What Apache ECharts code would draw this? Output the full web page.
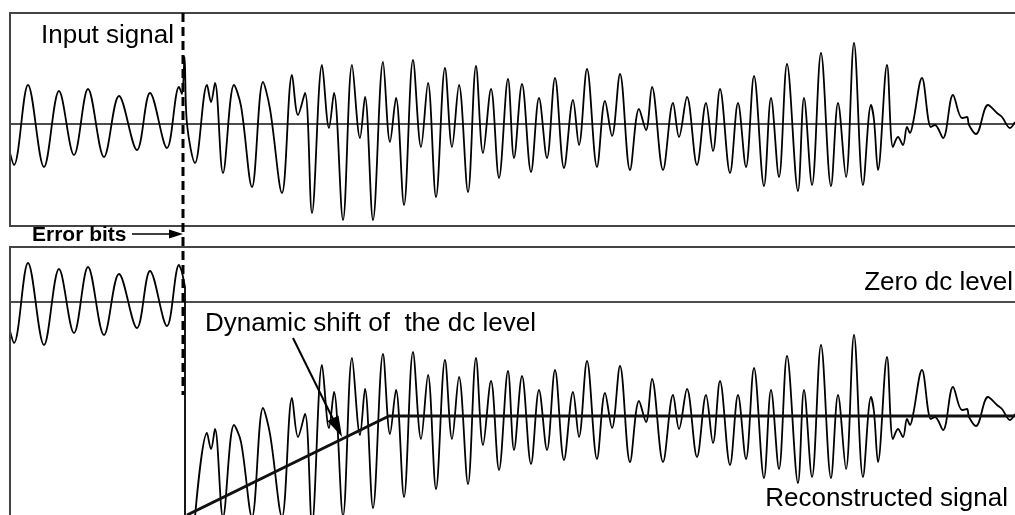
<!DOCTYPE html>
<html><head><meta charset="utf-8">
<script src="https://cdn.jsdelivr.net/npm/echarts@6/dist/echarts.min.js"></script>
<style>html,body{margin:0;padding:0;background:#fff}#c{width:1015px;height:515px}</style>
</head><body><div id="c"></div>
<script>
// ---- Input signal: extrema / shape points (time, amplitude) ----
const inputT = [10,14,28,44,59,74,88,104,119,137,150,167,179,
  182,184.5,187,195,
  207,211,215,223,
  234,241,252,263,270,282,
  292,298,305,312,
  322,329,334,343,
  352,360,365,373,
  383,390,396,404,
  413,421,428,436,
  445,452,459,468,
  476,483,491,499,
  508,514,522,
  531,539,547,555,
  564,573,579,587,
  597,605,612,620,
  630,639,646,652,
  663,673,679,687,
  697,706,713,720,
  730,738,746,754,
  764,771,779,787,
  798,804,812,821,
  831,838,846,854,
  863,871,874,878,
  887,893,898,903,
  907,910,913,922,
  931,935,943,953,
  962,967,969,976,
  988,997,1002,1010,1015];
const inputV = [-29,-41,39,-43,33,-31,35,-33,28,-26,31,-24,37,
  30,67,0,-39,
  39,22,41,-49,
  39,18,-63,42,15,-69,
  49,9,31,-89,
  59,-4,31,-96,
  59,-14,27,-96,
  62,-18,26,-81,
  64,-23,41,-73,
  56,-23,39,-68,
  58,-29,35,-54,
  45,-34,40,
  -48,26,-34,46,
  -44,24,-21,55,
  -43,23,-12,50,
  -46,15,-6,37,
  -46,21,-13,27,
  -41,21,-27,35,
  -49,21,-43,48,
  -62,26,-53,60,
  -67,26,-61,71,
  -62,21,-53,81,
  -61,19,4,-46,
  59,-23,-13,-21,
  -3,-9,1,46,
  -3,-1,-14,29,
  6,7,-1,-10,
  19,11,7,-4,2];

// ---- Lower panel: signal before the error (at zero dc level) ----
const preT = [10,14,28,44,59,74,88,104,119,137,150,167,179,182];
const preV = [-29,-41,39,-43,33,-31,35,-33,28,-26,31,-24,37,30];
// drop of the trace at the error instant
const dropT = [182,185,185];
const dropV = [30,15,-240];

// ---- Reconstructed signal (shifted dc) ----
const reconT = [195,207,211,215,223,234,241,252,263,270,282,292,298,305,312,322,329,334,343,352,360,365,373,
  383,390,396,404,
  413,421,428,436,
  445,452,459,468,
  476,483,491,499,
  508,514,522,
  531,539,547,555,
  564,573,579,587,
  597,605,612,620,
  630,639,646,652,
  663,673,679,687,
  697,706,713,720,
  730,738,746,754,
  764,771,779,787,
  798,804,812,821,
  831,838,846,854,
  863,871,874,878,
  887,893,898,903,
  907,910,913,922,
  931,935,943,953,
  962,967,969,976,
  988,997,1002,1010,1015];
const reconV = [-215,-131,-147,-127,-215,-123,-140,-215,-106,-132,-215,-96,-135,-112,-222,-63,-126,-90,-214,-56,-133,-87,-206,
  -52,-132,-88,-195,
  -50,-137,-73,-187,
  -58,-137,-75,-182,
  -56,-143,-79,-168,
  -69,-148,-74,
  -162,-88,-148,-68,
  -158,-90,-135,-59,
  -157,-91,-126,-64,
  -160,-99,-120,-77,
  -160,-93,-127,-87,
  -155,-93,-141,-79,
  -163,-93,-157,-66,
  -176,-88,-167,-54,
  -181,-88,-175,-43,
  -176,-93,-167,-33,
  -175,-95,-110,-160,
  -55,-137,-127,-135,
  -117,-123,-113,-68,
  -117,-115,-128,-85,
  -108,-107,-115,-124,
  -95,-103,-107,-118,-112];

// ---- Reference levels ----
const levelT = [10, 1015];
const zeroV = [0, 0];
const dcT = [187, 389, 1015];
const dcV = [-213, -114, -114];

const pts = (T, V) => T.map((t, i) => [t, V[i]]);
const FONT = '"Liberation Sans", Arial, Helvetica, sans-serif';

const sig = (name, xi, data, smooth) => ({
  type: 'line', name, xAxisIndex: xi, yAxisIndex: xi, data,
  smooth: smooth, symbol: 'none', silent: true, clip: true,
  lineStyle: { color: '#000', width: 1.8 }, z: 3
});
const lvl = (name, xi, data, w) => ({
  type: 'line', name, xAxisIndex: xi, yAxisIndex: xi, data,
  symbol: 'none', silent: true, clip: true,
  lineStyle: { color: '#111', width: w }, z: 2
});
const border = (x1, y1, x2, y2) => ({ type: 'line', z: 50, shape: { x1, y1, x2, y2 },
  style: { stroke: '#444', lineWidth: 2 } });

const chart = echarts.init(document.getElementById('c'), null, { renderer: 'canvas' });
chart.setOption({
  animation: false,
  backgroundColor: '#fff',
  grid: [
    { left: 10, top: 13, right: 0, height: 213, show: false },
    { left: 10, top: 247, right: 0, bottom: 0, show: false }
  ],
  xAxis: [
    { type: 'value', gridIndex: 0, min: 10, max: 1015, show: false },
    { type: 'value', gridIndex: 1, min: 10, max: 1015, show: false }
  ],
  yAxis: [
    { type: 'value', gridIndex: 0, min: -102, max: 111, show: false },
    { type: 'value', gridIndex: 1, min: -213, max: 55, show: false }
  ],
  series: [
    lvl('zeroTop', 0, pts(levelT, zeroV), 1.5),
    sig('Input signal', 0, pts(inputT, inputV), 0.35),
    lvl('zeroDc', 1, pts(levelT, zeroV), 1.5),
    sig('Before error', 1, pts(preT, preV), 0.35),
    sig('Drop', 1, pts(dropT, dropV), false),
    sig('Reconstructed signal', 1, pts(reconT, reconV), 0.35),
    Object.assign(lvl('dc level', 1, pts(dcT, dcV), 3), { z: 4 })
  ],
  graphic: [
    border(9, 13, 1015, 13), border(9, 226, 1015, 226), border(10, 13, 10, 226),
    border(9, 247, 1015, 247), border(10, 247, 10, 515),
    { type: 'line', z: 100, shape: { x1: 183, y1: 13, x2: 183, y2: 395 },
      style: { stroke: '#000', lineWidth: 3, lineDash: [9, 5] } },
    { type: 'line', z: 100, shape: { x1: 132, y1: 234, x2: 172, y2: 234 },
      style: { stroke: '#000', lineWidth: 1.5 } },
    { type: 'polygon', z: 100, shape: { points: [[183, 234], [169, 229.5], [169, 238.5]] },
      style: { fill: '#000' } },
    { type: 'line', z: 100, shape: { x1: 293, y1: 338, x2: 334, y2: 421 },
      style: { stroke: '#000', lineWidth: 2 } },
    { type: 'polygon', z: 100, shape: { points: [[342, 437], [338.5, 415.5], [327.5, 421.0]] },
      style: { fill: '#000' } },
    { type: 'text', z: 100, x: 41, y: 36,
      style: { text: 'Input signal', font: '26px ' + FONT, fill: '#000', verticalAlign: 'middle' } },
    { type: 'text', z: 100, x: 32, y: 235.5,
      style: { text: 'Error bits', font: 'bold 21px ' + FONT, fill: '#000', verticalAlign: 'middle' } },
    { type: 'text', z: 100, x: 1013, y: 283,
      style: { text: 'Zero dc level', font: '26px ' + FONT, fill: '#000', align: 'right', verticalAlign: 'middle' } },
    { type: 'text', z: 100, x: 205, y: 324,
      style: { text: 'Dynamic shift of  the dc level', font: '26px ' + FONT, fill: '#000', verticalAlign: 'middle' } },
    { type: 'text', z: 100, x: 1008, y: 499,
      style: { text: 'Reconstructed signal', font: '26px ' + FONT, fill: '#000', align: 'right', verticalAlign: 'middle' } }
  ]
});
</script>
</body></html>
